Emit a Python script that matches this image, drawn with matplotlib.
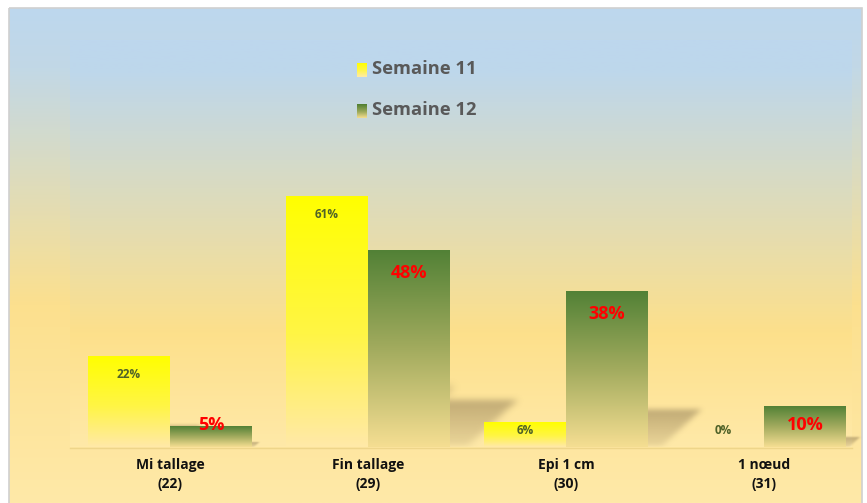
import numpy as np
import matplotlib
matplotlib.use("Agg")
import matplotlib.pyplot as plt
from matplotlib.colors import LinearSegmentedColormap, to_rgb
from matplotlib.patches import Rectangle
from matplotlib.path import Path

plt.rcParams['font.family'] = ['Open Sans', 'DejaVu Sans']

# données
categories = ['Mi tallage\n(22)', 'Fin tallage\n(29)', 'Epi 1 cm\n(30)', '1 nœud\n(31)']
semaine_11 = [22, 61, 6, 0]
semaine_12 = [5, 48, 38, 10]
series_names = ['Semaine 11', 'Semaine 12']

W, H = 867, 503
fig = plt.figure(figsize=(W / 100, H / 100), dpi=100)
fig.patch.set_facecolor('white')


def vgrad(stops, n=256):
    cmap = LinearSegmentedColormap.from_list('g', stops)
    return cmap(np.linspace(0, 1, n))[:, None, :3]


def blur(a, k=7, passes=3):
    ker = np.ones(k) / k
    for _ in range(passes):
        a = np.apply_along_axis(lambda r: np.convolve(r, ker, mode='same'), 0, a)
        a = np.apply_along_axis(lambda r: np.convolve(r, ker, mode='same'), 1, a)
    return a


# fond général (pixels)
bg = fig.add_axes([0, 0, 1, 1])
bg.set_xlim(0, W)
bg.set_ylim(H, 0)
bg.axis('off')
outer = vgrad([(0, '#BDD7EE'), (0.12, '#C2D8E6'), (0.6, '#FCE08E'), (1, '#FFE9A8')])
bg.imshow(outer, extent=[9, 862, H, 8], aspect='auto', zorder=0)
# zone de traçage
inner = vgrad([(0, '#BDD7EE'), (0.08, '#BED7EB'), (0.72, '#FDE08B'), (1, '#FFE9A8')])
bg.imshow(inner, extent=[70, 852, 447, 40], aspect='auto', zorder=1)
bg.add_patch(Rectangle((9, 8), 853, H, fill=False, edgecolor='#D0D0D0', lw=1.2, zorder=2))
bg.plot([70, 852], [447.5, 447.5], color='#EED58A', lw=1, zorder=2)

# légende
legend_grads = [
    vgrad([(0, '#FFFF00'), (0.5, '#FFF645'), (1, '#FFEBA8')]),
    vgrad([(0, '#4E7E30'), (0.55, '#9CA95A'), (1, '#F6DE90')]),
]
for i, name in enumerate(series_names):
    yc = 70 + 41 * i
    bg.imshow(legend_grads[i], extent=[357, 367, yc + 7, yc - 7], aspect='auto', zorder=3)
    bg.text(372, yc - 1, name, fontsize=13.2, fontweight='bold', color='#595959',
            va='center', ha='left', zorder=3)

# axes des barres
ax = fig.add_axes([71 / W, 56 / H, 792 / W, 287 / H])
ax.patch.set_alpha(0)
x = np.arange(len(categories))
bw = 0.414

yellow = vgrad([(0, '#FFFF00'), (0.55, '#FFF545'), (1, '#FFE9A8')])
green = vgrad([(0, '#528136'), (0.5, '#A2AB5E'), (1, '#F5DE92')])
shadow_rgb = np.array(to_rgb('#8F7B55'))

for xi, v1, v2 in zip(x, semaine_11, semaine_12):
    for off, v, grad in [(-bw / 2, v1, yellow), (bw / 2, v2, green)]:
        if v <= 0:
            continue
        x0, x1 = xi + off - bw / 2, xi + off + bw / 2
        # ombre portée floue
        sh, sw = 0.24 * v, 0.0071 * v
        ex = [x1 - 0.1, x1 + sw * 1.5, 0, sh * 1.6 + 1]
        nx, ny = 120, 90
        gx, gy = np.meshgrid(np.linspace(ex[0], ex[1], nx), np.linspace(ex[3], ex[2], ny))
        tri = Path([(x1 - 0.1, 0), (x1 - 0.1, sh), (x1 + sw, sh), (x1 + 0.25 * sw, 0)])
        m = tri.contains_points(np.c_[gx.ravel(), gy.ravel()]).reshape(ny, nx).astype(float)
        # fondu vers le bas
        m *= np.clip(0.3 + 0.7 * gy / max(sh, 1e-6), 0, 1)
        m = blur(m, k=7, passes=3)
        rgba = np.zeros((ny, nx, 4))
        rgba[..., :3] = shadow_rgb
        rgba[..., 3] = 0.55 * m
        ax.imshow(rgba, extent=ex, aspect='auto', zorder=1, interpolation='bilinear')
        ax.imshow(grad, extent=[x0, x1, 0, v], aspect='auto', zorder=2)

# étiquettes
for xi, v1, v2 in zip(x, semaine_11, semaine_12):
    ax.text(xi - bw / 2, max(v1 - 4.4, 4.1), f'{v1}%', ha='center', va='center',
            fontsize=8.5, fontweight='bold', color='#4F6228', zorder=4)
    ax.text(xi + bw / 2, max(v2 - 5.5, 5.4), f'{v2}%', ha='center', va='center',
            fontsize=13, fontweight='bold', color='#FF0000', zorder=4)

ax.set_xlim(-0.5, 3.5)
ax.set_ylim(0, 70)
ax.set_xticks(x)
ax.set_xticklabels(categories, fontsize=10, fontweight='bold', color='#111111', linespacing=1.45)
ax.tick_params(axis='x', length=0, pad=8)
ax.set_yticks([])
for s in ax.spines.values():
    s.set_visible(False)

fig.savefig('out.png', dpi=100)
